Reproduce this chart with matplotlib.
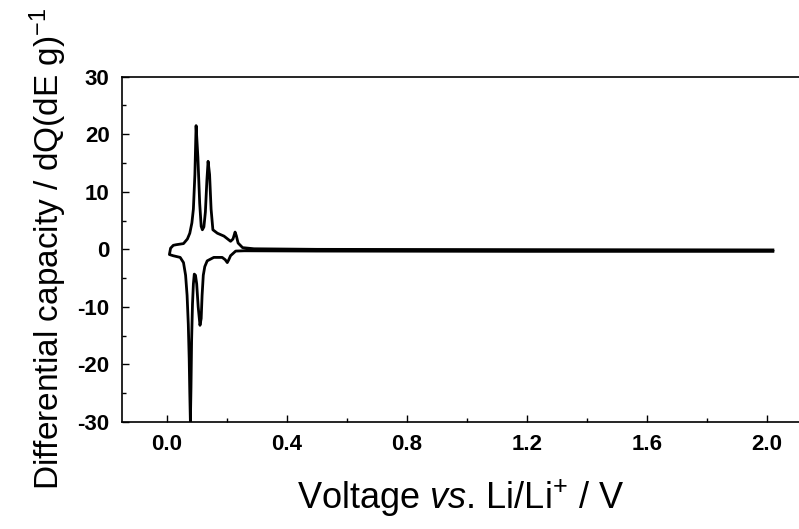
import matplotlib
matplotlib.use("Agg")
import matplotlib.pyplot as plt
from matplotlib.ticker import MultipleLocator

plt.rcParams["mathtext.fontset"] = "custom"
plt.rcParams["mathtext.rm"] = "Liberation Sans"
plt.rcParams["mathtext.it"] = "Liberation Sans:italic"
plt.rcParams["mathtext.bf"] = "Liberation Sans:bold"
plt.rcParams["font.family"] = ["Liberation Sans", "DejaVu Sans"]

# Upper (charge) branch, from high voltage back to the left turning point
upper_v = [2.02, 1.2, 0.5, 0.29, 0.252, 0.237, 0.231, 0.227, 0.220, 0.212, 0.190,
           0.168, 0.153, 0.147, 0.142, 0.137, 0.133, 0.128, 0.123, 0.118, 0.114,
           0.109, 0.103, 0.097, 0.093, 0.088, 0.083, 0.076, 0.068, 0.055, 0.030,
           0.021, 0.012, 0.008]
upper_q = [-0.1, -0.05, 0.0, 0.1, 0.3, 1.1, 2.4, 3.0, 1.8, 1.4, 2.3,
           2.8, 3.4, 7.0, 13.0, 15.3, 12.0, 6.5, 3.9, 3.4, 4.0,
           8.0, 16.0, 21.5, 13.0, 7.0, 4.6, 2.8, 1.8, 1.0, 0.8,
           0.7, 0.2, -0.9]
# Lower (discharge) branch, from the left turning point to high voltage
lower_v = [0.008, 0.02, 0.044, 0.055, 0.062, 0.067, 0.071, 0.074, 0.076, 0.078,
           0.080, 0.082, 0.085, 0.088, 0.091, 0.095, 0.099, 0.104, 0.110, 0.114,
           0.117, 0.121, 0.126, 0.134, 0.156, 0.184, 0.194, 0.201, 0.206, 0.212,
           0.229, 0.257, 0.5, 1.2, 2.02]
lower_q = [-0.9, -1.1, -1.4, -2.3, -4.5, -8.0, -13.0, -19.0, -25.0, -30.0,
           -24.0, -16.0, -9.5, -6.0, -4.3, -4.5, -6.0, -10.0, -13.2, -12.0,
           -8.0, -4.5, -3.0, -2.0, -1.4, -1.4, -1.8, -2.3, -1.8, -1.1,
           -0.3, -0.25, -0.3, -0.35, -0.35]

x_ticks = [0.0, 0.4, 0.8, 1.2, 1.6, 2.0]
y_ticks = [-30, -20, -10, 0, 10, 20, 30]

fig = plt.figure(figsize=(7.99, 5.29), dpi=100)
ax = fig.add_axes([122/799, (529-422)/529, 1.0 - 122/799, (422-76.7)/529])

ax.plot(upper_v + lower_v, upper_q + lower_q, color="black", lw=2.0,
        solid_joinstyle="round")

ax.set_xlim(-0.15, 2.107)
ax.set_ylim(-30, 30)
ax.set_xticks(x_ticks)
ax.set_yticks(y_ticks)
ax.xaxis.set_minor_locator(MultipleLocator(0.2))
ax.yaxis.set_minor_locator(MultipleLocator(5))
ax.tick_params(which="both", direction="in", width=1)
ax.tick_params(which="major", length=5, pad=9)
ax.tick_params(which="minor", length=3)
ax.set_xticklabels([f"{t:.1f}" for t in x_ticks])
ax.set_yticklabels([str(t) for t in y_ticks])
for lab in ax.get_xticklabels() + ax.get_yticklabels():
    lab.set_fontweight("bold")
    lab.set_fontsize(16)
for s in ax.spines.values():
    s.set_linewidth(1.2)
ax.spines["right"].set_visible(False)

ax.set_xlabel(r"Voltage $\mathit{vs}$. Li/Li$^{+}$ / V", fontsize=26, labelpad=16)
ax.set_ylabel(r"Differential capacity / dQ(dE g)$^{-1}$", fontsize=24, labelpad=6)
fig.savefig("out.png", dpi=100)
